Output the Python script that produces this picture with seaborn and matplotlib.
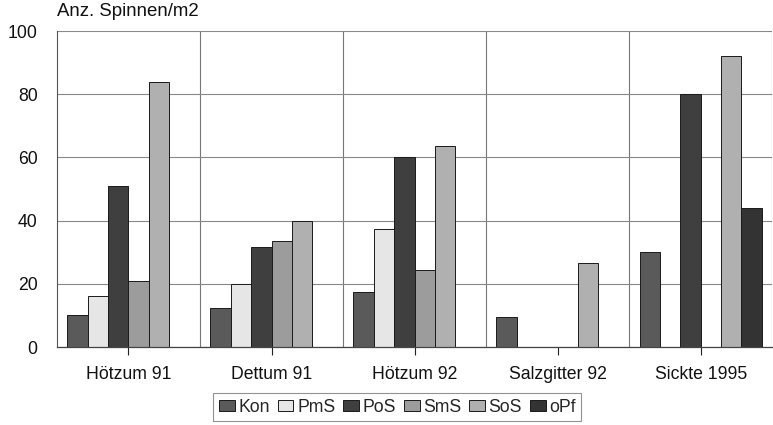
import matplotlib
matplotlib.use("Agg")
import matplotlib.pyplot as plt
import seaborn as sns
import pandas as pd
import numpy as np

# Spider density per site and habitat type
sites = ["Hötzum 91", "Dettum 91", "Hötzum 92", "Salzgitter 92", "Sickte 1995"]
habitats = ["Kon", "PmS", "PoS", "SmS", "SoS", "oPf"]
kon = [10, 12.5, 17.5, 9.5, 30]
pms = [16, 20, 37.5, 0, 0]
pos = [51, 31.5, 60, 0, 80]
sms = [21, 33.5, 24.5, 0, 0]
sos = [84, 40, 63.5, 26.5, 92]
opf = [0, 0, 0, 0, 44]
y_ticks = [0, 20, 40, 60, 80, 100]
y_label = "Anz. Spinnen/m2"

values = {"Kon": kon, "PmS": pms, "PoS": pos, "SmS": sms, "SoS": sos, "oPf": opf}
rows = []
for h in habitats:
    for s, v in zip(sites, values[h]):
        rows.append({"site": s, "habitat": h, "value": v})
df = pd.DataFrame(rows)

palette = {"Kon": "#5a5a5a", "PmS": "#e6e6e6", "PoS": "#3f3f3f",
           "SmS": "#9c9c9c", "SoS": "#b0b0b0", "oPf": "#333333"}

sns.set_theme(style="white")
plt.rcParams["font.family"] = ["Liberation Sans", "DejaVu Sans"]

fig = plt.figure(figsize=(7.73, 4.25), dpi=100)
ax = fig.add_axes([0.0737, 0.1835, 0.9253, 0.7435])

sns.barplot(data=df, x="site", y="value", hue="habitat", order=sites,
            hue_order=habitats, palette=palette, width=0.855, gap=0,
            edgecolor="#1a1a1a", linewidth=0.7, saturation=1, ax=ax,
            legend=True)

ax.set_xlim(-0.5, len(sites) - 0.5)
ax.set_ylim(0, 100)
ax.set_yticks(y_ticks)
ax.set_yticklabels([str(t) for t in y_ticks], fontsize=12.7, color="#111111")
ax.set_xticks(range(len(sites)))
ax.set_xticklabels(sites, fontsize=12.7, color="#111111")
ax.set_xlabel("")
ax.set_ylabel("")

# Group separators and value grid
ax.set_xticks(np.arange(0.5, len(sites) - 0.5, 1.0), minor=True)
ax.grid(True, which="minor", axis="x", color="#777777", linewidth=0.8)
ax.grid(True, which="major", axis="y", color="#888888", linewidth=0.8)
ax.grid(False, which="major", axis="x")
ax.set_axisbelow(True)
ax.axvline(len(sites) - 0.5, color="#777777", linewidth=0.8)

ax.tick_params(axis="x", which="major", direction="out", length=6, width=0.8,
               color="#222222", pad=8, bottom=True)
ax.tick_params(axis="x", which="minor", length=0)
ax.tick_params(axis="y", length=0, pad=14)

for side in ["top", "right"]:
    ax.spines[side].set_visible(False)
ax.spines["left"].set_color("#555555")
ax.spines["left"].set_linewidth(0.8)
ax.spines["bottom"].set_color("#444444")
ax.spines["bottom"].set_linewidth(0.9)

fig.text(0.0737, 0.972, y_label, fontsize=13.4, ha="left", va="center",
         color="#111111")

handles, labels = ax.get_legend_handles_labels()
ax.legend_.remove()
leg = fig.legend(handles, labels, loc="center", bbox_to_anchor=(0.514, 0.042),
                 ncol=6, fontsize=12.7, frameon=True, fancybox=False,
                 handlelength=0.9, handleheight=0.65, handletextpad=0.2,
                 columnspacing=0.45, borderpad=0.3, borderaxespad=0)
leg.get_frame().set_edgecolor("#777777")
leg.get_frame().set_linewidth(0.8)

fig.savefig("out.png", dpi=100)
